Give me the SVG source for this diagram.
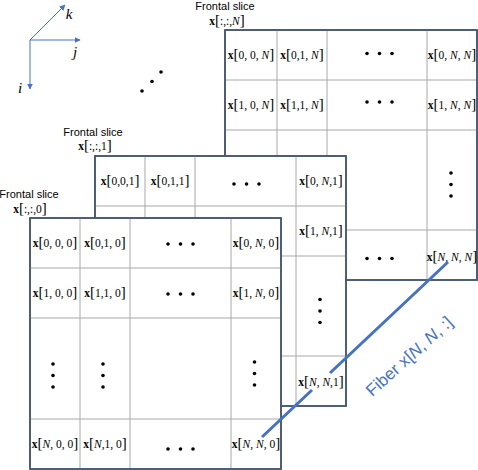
<svg xmlns="http://www.w3.org/2000/svg" width="478" height="470" viewBox="0 0 478 470">
<style>
.frame{fill:#fff;stroke:#44546a;stroke-width:1.5}
.grid{stroke:#a8a8a8;stroke-width:1;fill:none}
.m{font-family:"Liberation Serif",serif;font-size:11.5px;fill:#000;text-anchor:middle}
.m .b{font-weight:bold}
.m .br{font-size:15px}
.m .i{font-style:italic}
.t{font-family:"Liberation Sans",sans-serif;font-size:11px;fill:#000;text-anchor:middle}
.ax{stroke:#4472c4;stroke-width:1;fill:none}
.axl{font-family:"Liberation Serif",serif;font-style:italic;font-size:15px;fill:#000;text-anchor:middle}
.fib{stroke:#4472c4;stroke-width:3;fill:none}
.ft{font-family:"Liberation Sans",sans-serif;font-size:17px;fill:#4472c4;text-anchor:middle}
</style>
<defs>
<marker id="ah" viewBox="0 0 10 10" refX="9" refY="5" markerWidth="6" markerHeight="6" orient="auto" markerUnits="userSpaceOnUse">
<path d="M0,0 L10,5 L0,10 z" fill="#4472c4"/>
</marker>
<circle id="d" r="1.8" fill="#000"/>
</defs>

<g id="axes">
<line class="ax" x1="30" y1="40" x2="80" y2="40" marker-end="url(#ah)"/>
<line class="ax" x1="30" y1="40" x2="65" y2="5" marker-end="url(#ah)"/>
<line class="ax" x1="30" y1="40" x2="30" y2="89" marker-end="url(#ah)"/>
<text class="axl" x="69" y="19">k</text>
<text class="axl" x="75" y="57">j</text>
<text class="axl" x="20" y="93">i</text>
</g>

<g id="diag-dots">
<use href="#d" x="142" y="91"/><use href="#d" x="152" y="81.5"/><use href="#d" x="161" y="72"/>
</g>

<g id="sliceN">
<text class="t" x="225" y="10">Frontal slice</text>
<text class="m" x="227" y="25"><tspan class="b">x</tspan><tspan class="br">[</tspan>:,:,<tspan class="i">N</tspan><tspan class="br">]</tspan></text>
<rect class="frame" x="225" y="30" width="252" height="250"/>
<path class="grid" d="M277,30V280M327,30V280M427,30V280M225,80H477M225,130H477M225,230H477"/>
<rect x="225" y="30" width="252" height="250" fill="none" stroke="#44546a" stroke-width="1.5"/>
<text class="m" x="251" y="59"><tspan class="b">x</tspan><tspan class="br">[</tspan>0, 0, <tspan class="i">N</tspan><tspan class="br">]</tspan></text>
<text class="m" x="302" y="59"><tspan class="b">x</tspan><tspan class="br">[</tspan>0,1, <tspan class="i">N</tspan><tspan class="br">]</tspan></text>
<text class="m" x="452" y="59"><tspan class="b">x</tspan><tspan class="br">[</tspan>0, <tspan class="i">N</tspan>, <tspan class="i">N</tspan><tspan class="br">]</tspan></text>
<text class="m" x="251" y="109"><tspan class="b">x</tspan><tspan class="br">[</tspan>1, 0, <tspan class="i">N</tspan><tspan class="br">]</tspan></text>
<text class="m" x="302" y="109"><tspan class="b">x</tspan><tspan class="br">[</tspan>1,1, <tspan class="i">N</tspan><tspan class="br">]</tspan></text>
<text class="m" x="452" y="109"><tspan class="b">x</tspan><tspan class="br">[</tspan>1, <tspan class="i">N</tspan>, <tspan class="i">N</tspan><tspan class="br">]</tspan></text>
<text class="m" x="452" y="261"><tspan class="b">x</tspan><tspan class="br">[</tspan><tspan class="i">N</tspan>, <tspan class="i">N</tspan>, <tspan class="i">N</tspan><tspan class="br">]</tspan></text>
<use href="#d" x="367" y="53.5"/><use href="#d" x="379.5" y="53.5"/><use href="#d" x="392" y="53.5"/>
<use href="#d" x="367" y="102"/><use href="#d" x="379.5" y="102"/><use href="#d" x="392" y="102"/>
<use href="#d" x="451" y="173"/><use href="#d" x="451" y="184.5"/><use href="#d" x="451" y="196"/>
<use href="#d" x="367" y="258.5"/><use href="#d" x="379.5" y="258.5"/><use href="#d" x="392" y="258.5"/>
</g>

<g id="slice1">
<text class="t" x="93" y="136">Frontal slice</text>
<text class="m" x="95" y="150"><tspan class="b">x</tspan><tspan class="br">[</tspan>:,:,1<tspan class="br">]</tspan></text>
<rect class="frame" x="95" y="156" width="251" height="250"/>
<path class="grid" d="M145,156V406M195,156V406M296,156V406M95,206H346M95,256H346M95,356H346"/>
<rect x="95" y="156" width="251" height="250" fill="none" stroke="#44546a" stroke-width="1.5"/>
<text class="m" x="120" y="185"><tspan class="b">x</tspan><tspan class="br">[</tspan>0,0,1<tspan class="br">]</tspan></text>
<text class="m" x="170" y="185"><tspan class="b">x</tspan><tspan class="br">[</tspan>0,1,1<tspan class="br">]</tspan></text>
<text class="m" x="321" y="185"><tspan class="b">x</tspan><tspan class="br">[</tspan>0, <tspan class="i">N</tspan>,1<tspan class="br">]</tspan></text>
<text class="m" x="321" y="235"><tspan class="b">x</tspan><tspan class="br">[</tspan>1, <tspan class="i">N</tspan>,1<tspan class="br">]</tspan></text>
<text class="m" x="321" y="386"><tspan class="b">x</tspan><tspan class="br">[</tspan><tspan class="i">N</tspan>, <tspan class="i">N</tspan>,1<tspan class="br">]</tspan></text>
<use href="#d" x="234" y="184"/><use href="#d" x="246.5" y="184"/><use href="#d" x="259" y="184"/>
<use href="#d" x="320" y="299.5"/><use href="#d" x="320" y="311"/><use href="#d" x="320" y="322.5"/>
</g>

<g id="slice0">
<text class="t" x="29" y="198">Frontal slice</text>
<text class="m" x="30" y="213"><tspan class="b">x</tspan><tspan class="br">[</tspan>:,:,0<tspan class="br">]</tspan></text>
<rect class="frame" x="30" y="218" width="251" height="251"/>
<path class="grid" d="M80,218V469M130,218V469M231,218V469M30,268H281M30,318H281M30,419H281"/>
<rect x="30" y="218" width="251" height="251" fill="none" stroke="#44546a" stroke-width="1.5"/>
<text class="m" x="55" y="247"><tspan class="b">x</tspan><tspan class="br">[</tspan>0, 0, 0<tspan class="br">]</tspan></text>
<text class="m" x="105" y="247"><tspan class="b">x</tspan><tspan class="br">[</tspan>0,1, 0<tspan class="br">]</tspan></text>
<text class="m" x="256" y="247"><tspan class="b">x</tspan><tspan class="br">[</tspan>0, <tspan class="i">N</tspan>, 0<tspan class="br">]</tspan></text>
<text class="m" x="55" y="297"><tspan class="b">x</tspan><tspan class="br">[</tspan>1, 0, 0<tspan class="br">]</tspan></text>
<text class="m" x="105" y="297"><tspan class="b">x</tspan><tspan class="br">[</tspan>1,1, 0<tspan class="br">]</tspan></text>
<text class="m" x="256" y="297"><tspan class="b">x</tspan><tspan class="br">[</tspan>1, <tspan class="i">N</tspan>, 0<tspan class="br">]</tspan></text>
<text class="m" x="55" y="448"><tspan class="b">x</tspan><tspan class="br">[</tspan><tspan class="i">N</tspan>, 0, 0<tspan class="br">]</tspan></text>
<text class="m" x="105" y="448"><tspan class="b">x</tspan><tspan class="br">[</tspan><tspan class="i">N</tspan>,1, 0<tspan class="br">]</tspan></text>
<text class="m" x="256" y="448"><tspan class="b">x</tspan><tspan class="br">[</tspan><tspan class="i">N</tspan>, <tspan class="i">N</tspan>, 0<tspan class="br">]</tspan></text>
<use href="#d" x="168" y="244"/><use href="#d" x="180.5" y="244"/><use href="#d" x="193" y="244"/>
<use href="#d" x="168" y="294"/><use href="#d" x="180.5" y="294"/><use href="#d" x="193" y="294"/>
<use href="#d" x="168" y="449"/><use href="#d" x="180.5" y="449"/><use href="#d" x="193" y="449"/>
<use href="#d" x="53" y="364"/><use href="#d" x="53" y="375.5"/><use href="#d" x="53" y="387"/>
<use href="#d" x="103" y="364"/><use href="#d" x="103" y="375.5"/><use href="#d" x="103" y="387"/>
<use href="#d" x="254.5" y="362"/><use href="#d" x="254.5" y="373.5"/><use href="#d" x="254.5" y="385"/>
</g>

<g id="fiber">
<path class="fib" d="M262,437L312,390M330,373L448,262"/>
<text class="ft" transform="rotate(-42 409 356)" x="409" y="362">Fiber x[<tspan font-style="italic">N</tspan>, <tspan font-style="italic">N</tspan>, :]</text>
</g>
</svg>
